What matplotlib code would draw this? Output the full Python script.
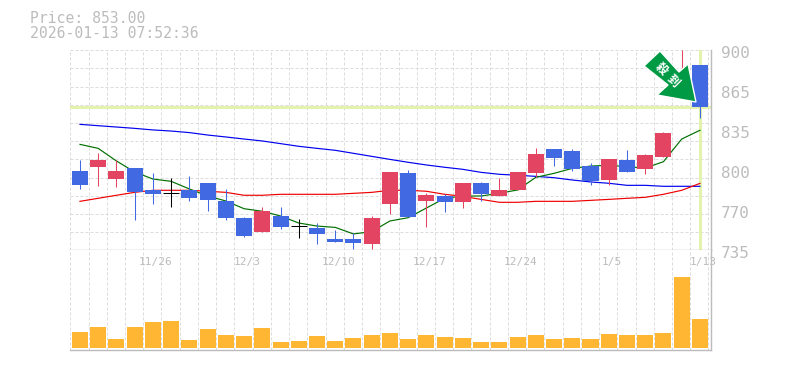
import numpy as np
import matplotlib
matplotlib.use('Agg')
import matplotlib.pyplot as plt
from matplotlib.patches import Polygon

W, H = 785, 370

price_title = 'Price: 853.00'
time_title = '2026-01-13 07:52:36'
last_price = 853.0

# candles, prices
opens = [800.4, 803.7, 793.8, 802.9, 784.8, 782, 784.8, 790.5, 775.7, 761.7, 750.1, 763.3, 754.8, 753.4, 744.3, 744.3, 740.2, 773.2, 798.8, 775.7, 779.8, 774.9, 790.5, 779.8, 784.8, 798.8, 818.6, 816.9, 804.5, 793, 809.5, 802.1, 812, 862, 887.9]
closes = [788.9, 809.5, 800.4, 783.1, 781.5, 782, 778.2, 776.5, 761.7, 746.8, 767.4, 754.2, 754.8, 748.4, 741.9, 741, 761.7, 799.6, 762.5, 780.6, 774.9, 790.5, 781.5, 784.8, 799.6, 814.5, 811.2, 802.1, 792.2, 810.3, 799.6, 813.6, 831.8, 880, 853.2]
highs = [809.5, 815.3, 809.5, 802.9, 798.8, 794.6, 796.3, 790.5, 785.6, 762.5, 770.7, 770.7, 760.8, 757.5, 751.8, 749.3, 763.3, 799.6, 801.3, 782, 781.5, 790.5, 791.4, 794.6, 799.6, 819.4, 818.6, 818.6, 807, 810.3, 817.8, 814.5, 832.6, 900, 887.9]
lows = [785.6, 788.1, 787.2, 760, 773.2, 770.7, 775.7, 767.4, 760, 746, 750.1, 752.6, 745.2, 740.2, 741.9, 736.1, 736.1, 765, 762.5, 754.2, 766.6, 769.9, 775.7, 779.8, 784.8, 795.5, 804.5, 800.4, 788.9, 788.9, 799.6, 797.9, 812, 862, 844.2]

ma_short = [822.4, 819.1, 808.7, 799.6, 793.8, 791.9, 785.6, 779.8, 775.7, 769.3, 767.2, 763.3, 757.5, 755, 753.9, 748.5, 750.4, 759.2, 761.9, 769.9, 777.9, 779.8, 779.8, 782, 784.8, 795.2, 798.5, 802.6, 804.5, 805.1, 804, 802.9, 808.1, 826.8, 834]
ma_mid = [775.4, 777.9, 780.4, 782.8, 784.5, 784.5, 784.5, 783.7, 782.8, 780.4, 780.4, 781.2, 781.2, 781.2, 781.2, 782, 782.8, 784.5, 784.5, 783.7, 781.2, 779.5, 777, 774.6, 774.6, 775.4, 775.4, 775.4, 776.2, 777, 777.9, 778.7, 781.2, 784.5, 790.2]
ma_long = [838.9, 837.8, 836.7, 835.6, 834.3, 833.4, 832.1, 830.1, 828.5, 826.8, 825.2, 823, 820.8, 819.1, 817.5, 815, 812.5, 810, 807.6, 805.4, 803.5, 801.8, 799.3, 797.7, 796.9, 796, 794.9, 793, 791.4, 790.3, 788.6, 788.6, 787.8, 787.8, 787.8]

volumes = [16, 21, 9, 21, 26, 27, 8, 19, 13, 12, 20, 6, 7, 12, 7, 10, 13, 15, 9, 13, 11, 10, 6, 6, 11, 13, 9, 10, 9, 14, 13, 13, 15, 71, 29]

date_ticks = [4, 9, 14, 19, 24, 29, 34]
date_labels = ['11/26', '12/3', '12/10', '12/17', '12/24', '1/5', '1/13']
price_ticks = [900, 867, 834, 801, 768, 735]
price_labels = ['900', '865', '835', '800', '770', '735']

BLUE = '#4169e1'
RED = '#e24462'
GRAY = '#bcbcbc'
GRID = '#dcdcdc'
HILITE = '#e3f3ae'
VOL = '#ffb733'
FONT = 'DejaVu Sans Mono'

fig = plt.figure(figsize=(W / 100, H / 100), dpi=100)
ax = fig.add_axes([70.3 / W, 1 - 250.3 / H, 640.2 / W, 200 / H])
ax2 = fig.add_axes([70.3 / W, 1 - 350 / H, 640.2 / W, 99.7 / H])

xs = np.arange(len(opens))
grid_x = np.arange(-0.53, 35, 1)

for a in (ax, ax2):
    a.set_xlim(-0.53, 34.58)
    a.set_xticks(grid_x)
    a.set_xticklabels([])
    a.tick_params(length=0, labelleft=False, labelbottom=False)
    a.grid(axis='x', color=GRID, lw=0.72, ls=(0, (3, 2)), zorder=0)
    a.set_axisbelow(True)
    for s in ('left', 'top'):
        a.spines[s].set_visible(False)
    for s in ('right', 'bottom'):
        a.spines[s].set_color(GRAY)
        a.spines[s].set_linewidth(1.0)

ax.set_ylim(735, 900)
ax.set_yticks(np.arange(735, 901, 15))
ax.grid(axis='y', color=GRID, lw=0.72, ls=(0, (3, 2)), zorder=0)
ax.axvline(34, ymax=0.995, color=HILITE, lw=2.2, zorder=1)
ax.axhline(last_price, xmax=0.997, color=HILITE, lw=2.2, zorder=1)

for x, o, c, h, l in zip(xs, opens, closes, highs, lows):
    if c > o:
        col = RED
    elif c < o:
        col = BLUE
    else:
        col = 'black'
    ax.vlines(x, l, h, color=col, lw=0.75, zorder=3)
    if c == o:
        ax.hlines(o, x - 0.44, x + 0.44, color=col, lw=0.75, zorder=3)
    else:
        ax.bar(x, abs(c - o), bottom=min(o, c), width=0.88, color=col, zorder=3)

ax.plot(xs, ma_long, color='#0000ee', lw=0.85, zorder=2.5)
ax.plot(xs, ma_mid, color='#ee0000', lw=0.85, zorder=2.5)
ax.plot(xs, ma_short, color='#007000', lw=0.85, zorder=2.5)

ax2.bar(xs, volumes, width=0.88, color=VOL, zorder=3)
ax2.set_ylim(-2, 97.7)
ax2.set_yticks([])

for p, s in zip(price_ticks, price_labels):
    ax.annotate(s, (1, p), xycoords=ax.get_yaxis_transform(), xytext=(10, -3), textcoords='offset pixels',
                color=GRAY, fontsize=11.5, family=FONT, va='center', ha='left', annotation_clip=False)
for d, s in zip(date_ticks, date_labels):
    ax2.annotate(s, (d, 1), xycoords=ax2.get_xaxis_transform(), xytext=(3, -12), textcoords='offset pixels',
                 color=GRAY, fontsize=8, family=FONT, va='center', ha='center', annotation_clip=False)

fig.text(30 / W, 1 - 18.5 / H, price_title, color=GRAY, fontsize=10.6, family=FONT, va='center')
fig.text(30 / W, 1 - 33 / H, time_title, color=GRAY, fontsize=10.6, family=FONT, va='center')

# sign on top of the last candles, pixel outline of the arrow
arrow_px = [(660, 51), (644, 66), (668, 85), (657, 95), (696, 102), (688, 64), (679, 72)]
arrow_xy = [(px / W, 1 - py / H) for px, py in arrow_px]
fig.add_artist(Polygon(arrow_xy, closed=True, transform=fig.transFigure, facecolor='#009944',
                       edgecolor='white', lw=1, zorder=10))
fig.text(661 / W, 1 - 69 / H, '殺', color='white', fontsize=8.5, rotation=-45, weight='bold',
         family='Noto Sans CJK JP', ha='center', va='center', zorder=11)
fig.text(673 / W, 1 - 81 / H, '到', color='white', fontsize=8.5, rotation=-45, weight='bold',
         family='Noto Sans CJK JP', ha='center', va='center', zorder=11)

fig.savefig('out.png', dpi=100)
